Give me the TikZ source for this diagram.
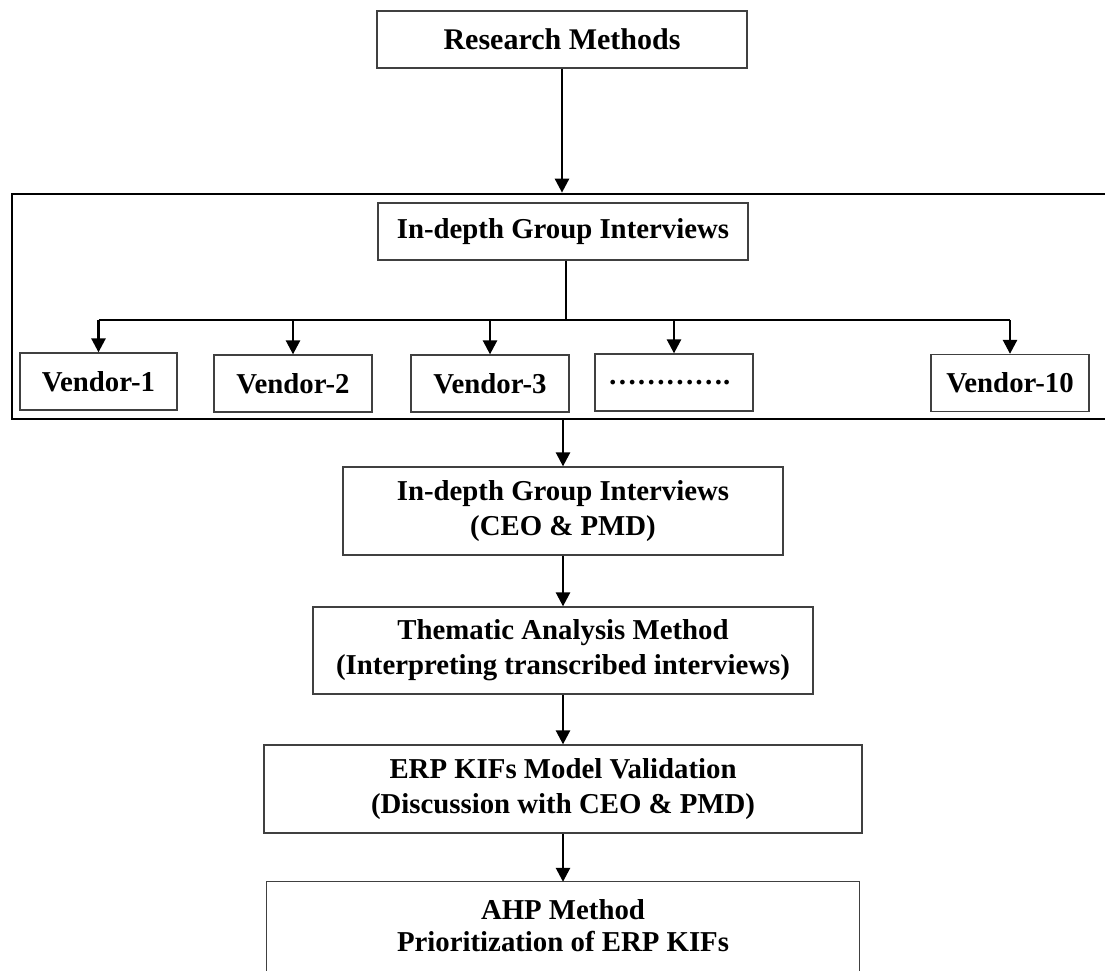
\documentclass[tikz,border=0pt]{standalone}
\usepackage{fontspec}
\setmainfont{Liberation Serif}
\usetikzlibrary{arrows.meta}
\begin{document}
\begin{tikzpicture}[x=1pt,y=-1pt,
  every node/.style={font=\fontsize{28.8}{35}\selectfont\bfseries, inner sep=0pt, align=center},
  box/.style={draw=black!75, line width=1.3pt},
  framebox/.style={draw=black, line width=2.7pt},
  conn/.style={line width=2.6pt, -{Triangle[length=14pt,width=14pt]}},
  busline/.style={line width=2.6pt}]
\clip (0,0) rectangle (1105,970);
\fill[white] (0,0) rectangle (1105,970);
% top
\node[box, minimum width=370, minimum height=57, font=\fontsize{30}{35}\selectfont\bfseries] (rm) at (562,39.5) {Research Methods};
% frame
\node[framebox, minimum width=1110, minimum height=225] (frame) at (567,306.5) {};
\node[box, minimum width=370, minimum height=57] (igi) at (563,231.5) {In-depth Group Interviews};
% vendors
\node[box, minimum width=157, minimum height=57] (v1) at (98.5,381.5) {Vendor-1};
\node[box, minimum width=158, minimum height=57] (v2) at (293,383.5) {Vendor-2};
\node[box, minimum width=158, minimum height=57] (v3) at (490,383.5) {Vendor-3};
\node[box, minimum width=158, minimum height=57] (vd) at (674,382.5) {…………. };
\node[box, minimum width=158, minimum height=57] (v10) at (1010,383) {Vendor-10};
\coordinate (bus) at (566,320);
% lower chain
\node[box, minimum width=440, minimum height=88] (ceo) at (563,511) {In-depth Group Interviews\\(CEO \& PMD)};
\node[box, minimum width=500, minimum height=87] (tam) at (563,650.5) {Thematic Analysis Method\\(Interpreting transcribed interviews)};
\node[box, minimum width=598, minimum height=88] (erp) at (563,789) {ERP KIFs Model Validation\\(Discussion with CEO \& PMD)};
\node[minimum width=592, minimum height=88, font=\fontsize{28.8}{32}\selectfont\bfseries] (ahp) at (563,926) {AHP Method\\Prioritization of ERP KIFs};
\draw[box] ([yshift=-30pt]ahp.south west) -- (ahp.north west) -- (ahp.north east) -- ([yshift=-30pt]ahp.south east);
% connectors
\draw[conn] (rm.south) -- (rm.south |- frame.north);
\draw[line width=2.6pt] (igi.south -| bus) -- (bus);
\draw[busline] (v1.north |- bus) -- (v10.north |- bus);
\draw[conn] (v1.north |- bus) -- (v1.north);
\draw[conn] (v2.north |- bus) -- (v2.north);
\draw[conn] (v3.north |- bus) -- (v3.north);
\draw[conn] (vd.north |- bus) -- (vd.north);
\draw[conn] (v10.north |- bus) -- (v10.north);
\draw[conn] (ceo.north |- frame.south) -- (ceo.north);
\draw[conn] (ceo.south) -- (tam.north);
\draw[conn] (tam.south) -- (erp.north);
\draw[conn] (erp.south) -- (ahp.north);
\end{tikzpicture}
\end{document}
